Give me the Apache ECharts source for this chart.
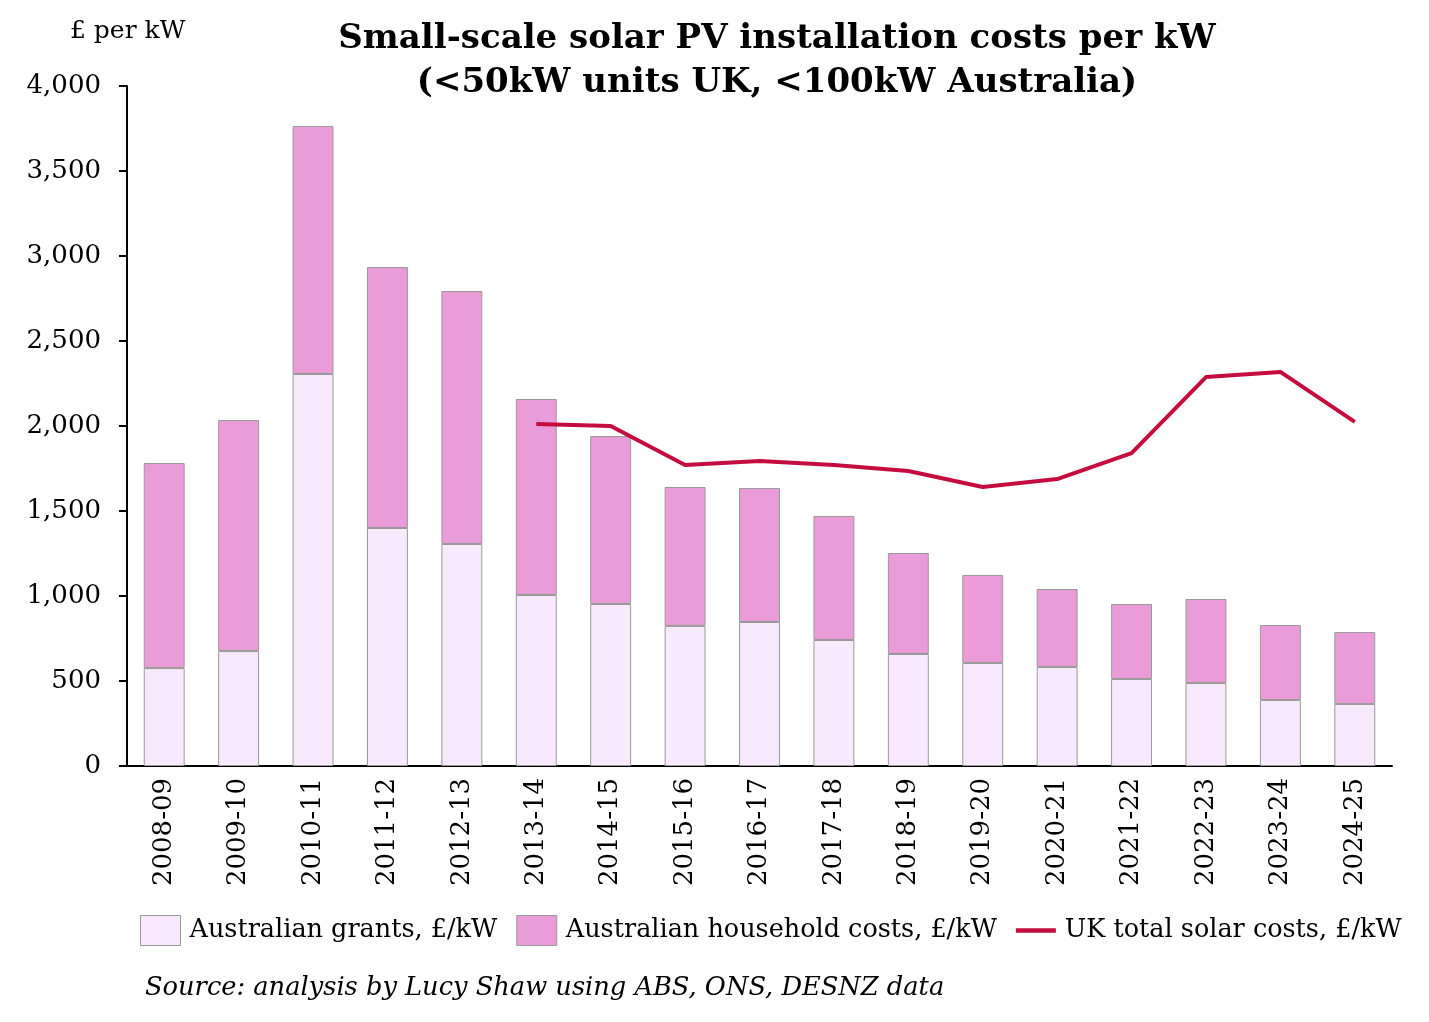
<!DOCTYPE html>
<html>
<head>
<meta charset="utf-8">
<script src="https://cdn.jsdelivr.net/npm/echarts@6/dist/echarts.min.js"></script>
<style>
  html, body { margin: 0; padding: 0; background: #fff; }
  #chart { width: 1429px; height: 1022px; }
</style>
</head>
<body>
<div id="chart"></div>
<script>
// financial years
var years = ['2008-09', '2009-10', '2010-11', '2011-12', '2012-13', '2013-14', '2014-15', '2015-16',
  '2016-17', '2017-18', '2018-19', '2019-20', '2020-21', '2021-22', '2022-23', '2023-24', '2024-25']
// Australian grants, £/kW (bottom of the stack)
var grants = [576, 676, 2306, 1400, 1306, 1006, 953, 824, 847, 741, 659, 606, 582, 512, 488, 388, 365]
// Australian household costs, £/kW (top of the stack)
var household = [1206, 1359, 1459, 1535, 1488, 1153, 988, 817, 788, 730, 594, 518, 459, 441, 494, 441, 423]
// UK total solar costs, £/kW (starts in 2013-14)
var ukTotal = [null, null, null, null, null, 2012, 2000, 1771, 1794, 1771, 1735, 1641, 1688, 1841, 2288, 2318, 2024]
var yTicks = [0, 500, 1000, 1500, 2000, 2500, 3000, 3500, 4000]

var serif = 'DejaVu Serif'
var chart = echarts.init(document.getElementById('chart'))

chart.setOption({
  animation: false,
  color: ['#f9e9fc', '#e99cd7', '#c40d3e'],
  title: {
    text: 'Small-scale solar PV installation costs per kW\n(<50kW units UK, <100kW Australia)',
    left: 772,
    top: 12,
    textAlign: 'center',
    textStyle: { fontFamily: serif, fontWeight: 'bold', fontSize: 34, lineHeight: 44, color: '#000' }
  },
  graphic: [
    { type: 'text', left: 70, top: 19, style: { text: '£ per kW', font: '25px ' + serif, fill: '#000' } },
    { type: 'text', left: 145, top: 975, style: { text: 'Source: analysis by Lucy Shaw using ABS, ONS, DESNZ data', font: 'italic 25.7px ' + serif, fill: '#000' } }
  ],
  legend: {
    left: 140,
    top: 915,
    width: 1285,
    padding: 0,
    itemWidth: 40,
    itemHeight: 30,
    itemGap: 19,
    textStyle: { fontFamily: serif, fontSize: 25.5, color: '#000', padding: [0, 0, 0, 4] },
    data: [
      { name: 'Australian grants, £/kW', icon: 'rect', itemStyle: { borderColor: '#999', borderWidth: 1 } },
      { name: 'Australian household costs, £/kW', icon: 'rect', itemStyle: { borderColor: '#999', borderWidth: 1 } },
      { name: 'UK total solar costs, £/kW', icon: 'path://M0,0 L37,0 L37,4 L0,4 Z', itemStyle: { color: '#c40d3e', borderWidth: 0 } }
    ]
  },
  grid: { left: 127, right: 37, top: 86, bottom: 256 },
  xAxis: {
    type: 'category',
    data: years,
    axisLine: { lineStyle: { color: '#000', width: 2 } },
    axisTick: { show: false },
    axisLabel: { rotate: 90, margin: 12, fontFamily: serif, fontSize: 26, color: '#000' }
  },
  yAxis: {
    type: 'value',
    min: 0,
    max: 4000,
    interval: 500,
    splitLine: { show: false },
    axisLine: { show: true, lineStyle: { color: '#000', width: 2 } },
    axisTick: { show: true, length: 8, lineStyle: { color: '#000', width: 2 } },
    axisLabel: {
      margin: 26, fontFamily: serif, fontSize: 26, color: '#000',
      formatter: function (v) { return yTicks.indexOf(v) >= 0 ? v.toLocaleString('en-GB') : '' }
    }
  },
  series: [
    {
      name: 'Australian grants, £/kW', type: 'bar', stack: 'aus', barWidth: '55%', data: grants,
      itemStyle: { color: '#f9e9fc', borderColor: '#999', borderWidth: 1 }
    },
    {
      name: 'Australian household costs, £/kW', type: 'bar', stack: 'aus', data: household,
      itemStyle: { color: '#e99cd7', borderColor: '#999', borderWidth: 1 }
    },
    {
      name: 'UK total solar costs, £/kW', type: 'line', data: ukTotal, symbol: 'none',
      lineStyle: { color: '#c40d3e', width: 4 }, itemStyle: { color: '#c40d3e' }
    }
  ]
})
</script>
</body>
</html>
